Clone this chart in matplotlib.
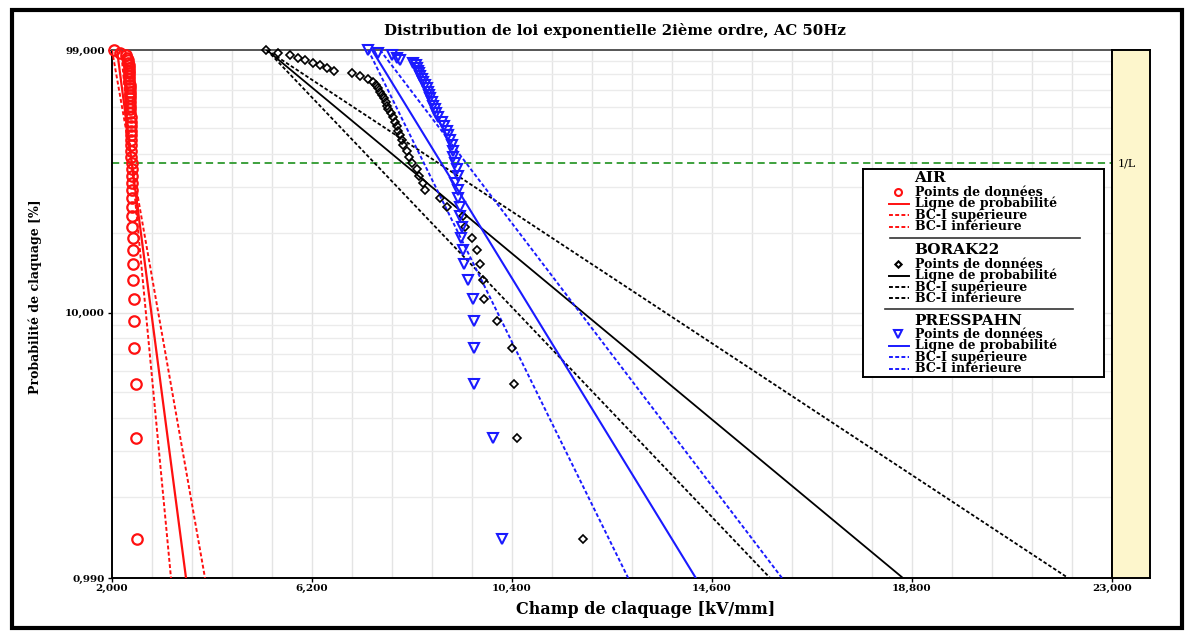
import matplotlib
matplotlib.use("Agg")
import matplotlib.pyplot as plt
from matplotlib.patches import Rectangle
from matplotlib.ticker import FuncFormatter, FixedLocator

# ---------------- data ----------------
rank_prob = [1.39, 3.37, 5.36, 7.34, 9.33, 11.31, 13.29, 15.28, 17.26, 19.25,
             21.23, 23.21, 25.20, 27.18, 29.17, 31.15, 33.13, 35.12, 37.10, 39.09,
             41.07, 43.06, 45.04, 47.02, 49.01, 50.99, 52.98, 54.96, 56.94, 58.93,
             60.91, 62.90, 64.88, 66.87, 68.85, 70.83, 72.82, 74.80, 76.79, 78.77,
             80.75, 82.74, 84.72, 86.71, 88.69, 90.67, 92.66, 94.64, 96.63, 98.61]

air = [2525, 2500, 2500, 2460, 2460, 2460, 2440, 2440, 2440, 2440,
       2420, 2420, 2420, 2420, 2420, 2420, 2410, 2410, 2410, 2400,
       2400, 2400, 2400, 2400, 2390, 2390, 2390, 2390, 2380, 2380,
       2380, 2380, 2380, 2370, 2370, 2370, 2370, 2360, 2360, 2360,
       2360, 2350, 2350, 2350, 2340, 2340, 2320, 2290, 2170, 2040]

borak22 = [11890, 10500, 10440, 10400, 10090, 9810, 9790, 9730, 9670, 9560,
           9410, 9370, 9040, 8890, 8570, 8530, 8450, 8400, 8300, 8240,
           8200, 8110, 8090, 8050, 8010, 7990, 7940, 7900, 7860, 7800,
           7780, 7750, 7710, 7670, 7630, 7590, 7540, 7480, 7380, 7210,
           7040, 6660, 6520, 6370, 6220, 6050, 5910, 5740, 5490, 5230]

presspahn = [10190, 10000, 9600, 9600, 9600, 9580, 9480, 9390, 9370, 9330,
             9350, 9310, 9310, 9270, 9270, 9200, 9270, 9250, 9200, 9160,
             9160, 9140, 9100, 9060, 9040, 8970, 8930, 8850, 8800, 8780,
             8740, 8720, 8680, 8660, 8640, 8620, 8570, 8530, 8510, 8470,
             8450, 8430, 8410, 8380, 8320, 8050, 7990, 7880, 7590, 7380]

line_prob = [99.0, 0.99]
air_line, air_upper, air_lower = [2105, 3554], [2189, 3239], [2000, 3953]
borak_line, borak_upper, borak_lower = [5250, 18610], [5250, 15820], [5250, 22080]
press_line, press_upper, press_lower = [7460, 14260], [7380, 12840], [7630, 16070]

life_prob = 36.9  # 1/L line

x_ticks = [2000, 6200, 10400, 14600, 18800, 23000]
y_ticks = [0.99, 10, 99]
y_tick_labels = ["0,990", "10,000", "99,000"]

title = "Distribution de loi exponentielle 2ième ordre, AC 50Hz"
xlabel = "Champ de claquage [kV/mm]"
ylabel = "Probabilité de claquage [%]"

RED, BLACK, BLUE, GREEN = "#ff1010", "#000000", "#1a1aff", "#2e9a2e"
SERIF = ["DejaVu Serif"]

# ---------------- figure ----------------
W, H = 1192, 634
fig = plt.figure(figsize=(W / 100, H / 100), dpi=100)
fig.patch.set_facecolor("white")

def fx(px):
    return px / W

def fy(py):
    return 1 - py / H

ax = fig.add_axes([fx(112), fy(578), fx(1112) - fx(112), fy(50) - fy(578)])
ax.set_yscale("log")
ax.set_xlim(2000, 23000)
ax.set_ylim(0.99, 99)

# grid
for gx in range(2840, 23000, 840):
    ax.axvline(gx, color="#e4e4e4", lw=1.0, zorder=0)
for dec in (1, 10):
    for m in range(2, 10):
        ax.axhline(m * dec, color="#ebebeb", lw=1.0, zorder=0)
ax.axhline(10, color="#e4e4e4", lw=1.0, zorder=0)

dash = (0, (2.0, 1.2))
# AIR
ax.plot(air_line, line_prob, color=RED, lw=1.6, zorder=3)
ax.plot(air_upper, line_prob, color=RED, lw=1.4, ls=dash, zorder=3)
ax.plot(air_lower, line_prob, color=RED, lw=1.4, ls=dash, zorder=3)
# BORAK22
ax.plot(borak_line, line_prob, color=BLACK, lw=1.3, zorder=3)
ax.plot(borak_upper, line_prob, color=BLACK, lw=1.3, ls=dash, zorder=3)
ax.plot(borak_lower, line_prob, color=BLACK, lw=1.3, ls=dash, zorder=3)
# PRESSPAHN
ax.plot(press_line, line_prob, color=BLUE, lw=1.5, zorder=3)
ax.plot(press_upper, line_prob, color=BLUE, lw=1.4, ls=dash, zorder=3)
ax.plot(press_lower, line_prob, color=BLUE, lw=1.4, ls=dash, zorder=3)

ax.plot(air, rank_prob, ls="none", marker="o", ms=7.5, mfc="none", mec=RED, mew=1.6,
        zorder=4, clip_on=False)
ax.plot(borak22, rank_prob, ls="none", marker="D", ms=4.5, mfc="none", mec=BLACK, mew=1.2,
        zorder=4, clip_on=False)
ax.plot(presspahn, rank_prob, ls="none", marker="v", ms=7, mfc="none", mec=BLUE, mew=1.5,
        zorder=4, clip_on=False)

ax.axhline(life_prob, color=GREEN, lw=1.3, ls=(0, (4, 2.5)), zorder=2, clip_on=False)

# axes styling
for s in ("left", "bottom", "right"):
    ax.spines[s].set_color("black")
    ax.spines[s].set_linewidth(1.4)
ax.spines["top"].set_color("#555555")
ax.spines["top"].set_linewidth(1.4)

ax.xaxis.set_major_locator(FixedLocator(x_ticks))
ax.xaxis.set_major_formatter(FuncFormatter(lambda v, p: f"{v:,.0f}"))
ax.yaxis.set_major_locator(FixedLocator(y_ticks))
ax.yaxis.set_minor_locator(FixedLocator([]))
ax.set_yticklabels(y_tick_labels)
ax.tick_params(axis="both", which="major", direction="out", length=3, width=1,
               labelsize=7.5, pad=2)
for lab in ax.get_xticklabels() + ax.get_yticklabels():
    lab.set_fontfamily(SERIF)
    lab.set_fontweight("bold")
ax.tick_params(axis="x", pad=1)

# yellow side panel
side = fig.add_axes([fx(1112), fy(578), fx(1150) - fx(1112), fy(50) - fy(578)])
side.set_facecolor("#fdf6cc")
side.set_xticks([])
side.set_yticks([])
for s in side.spines.values():
    s.set_linewidth(1.4)
    s.set_color("black")
side.text(0.14, (578 - 163) / 528, "1/L", fontsize=8, fontfamily=SERIF,
          va="center", ha="left", transform=side.transAxes)

# titles
fig.text(fx(615), fy(31), title, ha="center", va="center", fontsize=10.7,
         fontweight="bold", fontfamily=SERIF)
fig.text(fx(646), fy(610), xlabel, ha="center", va="center", fontsize=11.5,
         fontweight="bold", fontfamily=SERIF)
fig.text(fx(35), fy(297), ylabel, ha="center", va="center", rotation=90,
         fontsize=9, fontweight="bold", fontfamily=SERIF)

# legend (drawn manually)
lg = fig.add_axes([fx(863), fy(377), fx(1104) - fx(863), fy(169) - fy(377)])
lg.set_xlim(863, 1104)
lg.set_ylim(377, 169)
lg.set_xticks([])
lg.set_yticks([])
lg.set_facecolor("white")
for s in lg.spines.values():
    s.set_linewidth(1.4)
    s.set_color("black")
lg.set_zorder(10)

groups = [
    ("AIR", RED, "o", 178, [192, 203.5, 215, 227], 238, (890, 1080)),
    ("BORAK22", BLACK, "D", 250, [264, 275.5, 287, 298], 309, (885, 1073)),
    ("PRESSPAHN", BLUE, "v", 321, [334, 345.5, 357, 369], None, None),
]
entry_labels = ["Points de données", "Ligne de probabilité", "BC-I supérieure",
                "BC-I inférieure"]
for name, col, mk, ty, rows, sep_y, sep_x in groups:
    lg.text(914, ty, name, fontsize=11, fontweight="bold", fontfamily=SERIF,
            va="center", ha="left")
    ms = {"o": 5, "D": 3.2, "v": 5.5}[mk]
    lg.plot([898], [rows[0]], marker=mk, ms=ms, mfc="none", mec=col, mew=1.5)
    lg.plot([889, 909], [rows[1], rows[1]], color=col, lw=1.4)
    lg.plot([889, 909], [rows[2], rows[2]], color=col, lw=1.4, ls=dash)
    lg.plot([889, 909], [rows[3], rows[3]], color=col, lw=1.4, ls=dash)
    for r, t in zip(rows, entry_labels):
        lg.text(915, r, t, fontsize=9, fontweight="bold", fontfamily=SERIF,
                va="center", ha="left")
    if sep_y is not None:
        lg.plot(list(sep_x), [sep_y, sep_y], color="#333333", lw=1.2)

# outer frame
fig.patches.append(Rectangle((fx(12), fy(628)), fx(1182) - fx(12), fy(10) - fy(628),
                             transform=fig.transFigure, fill=False,
                             edgecolor="black", lw=3))

fig.savefig("out.png", dpi=100)
